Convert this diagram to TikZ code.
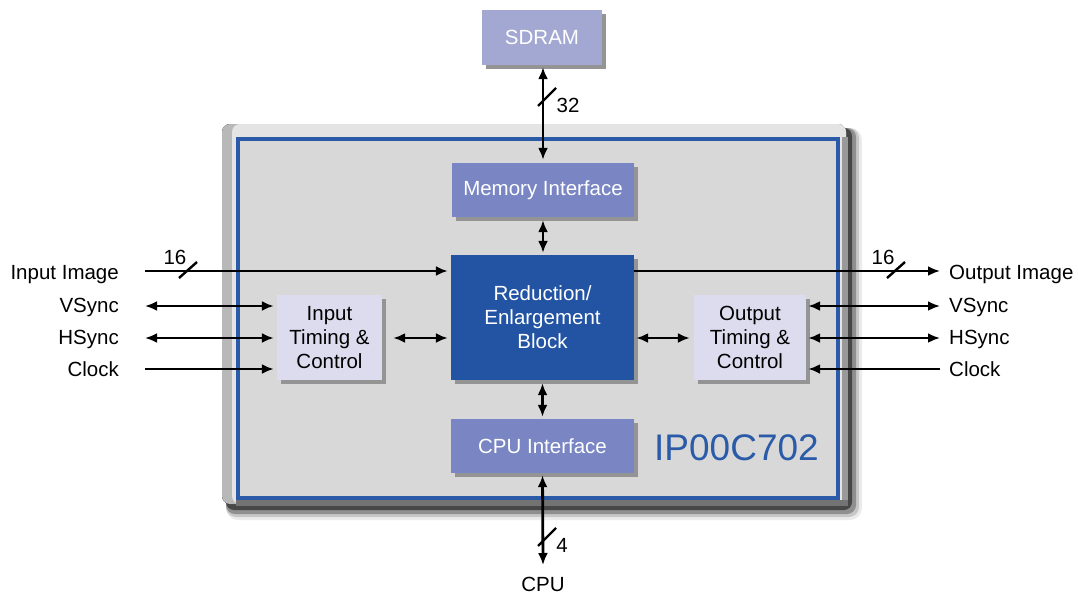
\documentclass[tikz,border=0pt]{standalone}
\usepackage{fontspec}
\setmainfont{Liberation Sans}
\usetikzlibrary{arrows.meta,shadows}
\definecolor{frameblue}{HTML}{2A5AA8}
\definecolor{redblue}{HTML}{2354A4}
\definecolor{midblue}{HTML}{7986C3}
\definecolor{sdramblue}{HTML}{A3A8D2}
\definecolor{lightlav}{HTML}{DCDCEE}
\definecolor{panel}{HTML}{D8D8D8}
\definecolor{bezel}{HTML}{E4E4E4}
\begin{document}
\begin{tikzpicture}[x=1pt,y=-1pt,
  txt/.style={font=\fontsize{20.5}{24}\selectfont, inner sep=0pt},
  shad/.style={general shadow={shadow xshift=4pt,shadow yshift=-4pt,fill=black!42}},
  box/.style={txt, shad, draw=none, align=center},
  bus/.style={line width=2.8pt, black},
  arr/.style={bus, -{Latex[length=12pt,width=10pt]}},
  darr/.style={bus, {Latex[length=12pt,width=10pt]}-{Latex[length=12pt,width=10pt]}},
  slash/.style={line width=2.4pt, black}
]
\useasboundingbox (0,0) rectangle (1078,594);
\fill[white] (0,0) rectangle (1078,594);
% bezel with shadow
\fill[black, opacity=0.08, rounded corners=12pt] (226,128) rectangle (862,520);
\fill[black, opacity=0.15, rounded corners=10pt] (226,128) rectangle (859,517);
\fill[black, opacity=0.28, rounded corners=9pt] (226,128) rectangle (856,514);
\fill[black!72, rounded corners=8pt] (226,128) rectangle (852,510);
\fill[left color=black!28, right color=bezel, rounded corners=8pt] (222,124) rectangle (846,504);
\fill[bezel, rounded corners=8pt] (232,124) rectangle (846,504);
\fill[black!40] (842,137) rectangle (848,504);
\fill[black!55] (236,500) rectangle (848,506);
% inner panel
\draw[frameblue, line width=4pt, fill=panel] (238,139) rectangle (838,498);

% blocks
\node[box, fill=sdramblue, text=white, minimum width=120pt, minimum height=55pt] (sdram) at (542,37.5) {SDRAM};
\node[box, fill=midblue, text=white, minimum width=182pt, minimum height=54pt] (mem) at (543,190) {Memory Interface};
\node[box, fill=redblue, text=white, minimum width=183pt, minimum height=125pt] (red) at (542.5,317.5) {Reduction/\\Enlargement\\Block};
\node[box, fill=midblue, text=white, minimum width=183pt, minimum height=54pt] (cpu) at (542.5,446) {CPU Interface};
\node[box, fill=lightlav, text=black, minimum width=105pt, minimum height=85pt] (itc) at (329.5,337.5) {Input\\Timing \&\\Control};
\node[box, fill=lightlav, text=black, minimum width=112pt, minimum height=85pt] (otc) at (750,337.5) {Output\\Timing \&\\Control};
\node[inner sep=0pt, text=frameblue, font=\fontsize{37}{40}\selectfont, anchor=west] (ip) at (654,448) {IP00C702};

% labels
\node[txt, anchor=base east] (linimg) at (119,279) {Input Image};
\node[txt, anchor=base east] (lvs) at (119,312) {VSync};
\node[txt, anchor=base east] (lhs) at (119,344) {HSync};
\node[txt, anchor=base east] (lclk) at (119,376) {Clock};
\node[txt, anchor=base west] (routimg) at (949,279) {Output Image};
\node[txt, anchor=base west] (rvs) at (949,312) {VSync};
\node[txt, anchor=base west] (rhs) at (949,344) {HSync};
\node[txt, anchor=base west] (rclk) at (949,376) {Clock};
\node[txt, anchor=base] (lcpu) at (543,591) {CPU};
\node[txt, anchor=base] (l32) at (568,112) {32};
\node[txt, anchor=base] (l4) at (562,552) {4};
\node[txt, anchor=base] (l16a) at (175,264) {16};
\node[txt, anchor=base] (l16b) at (883,264) {16};

% coordinates
\coordinate (inL) at (145,271);
\coordinate (vsL) at (145,306);
\coordinate (hsL) at (145,338);
\coordinate (ckL) at (145,369);
\coordinate (outR) at (940,271);
\coordinate (vsR) at (940,306);
\coordinate (hsR) at (940,338);
\coordinate (ckR) at (940,369);
\coordinate (cpuB) at (543,565);

% connectors
\draw[darr, shorten <=2pt, shorten >=3pt] (sdram.south -| mem.north) -- (mem.north);
\draw[darr, shorten <=3pt, shorten >=2pt] (mem.south) -- (mem.south |- red.north);
\draw[darr, shorten <=3pt, shorten >=2pt] (red.south -| cpu.north) -- (cpu.north);
\draw[darr, shorten <=2pt] (cpu.south) -- (cpuB);
\draw[arr, shorten >=3pt] (inL) -- (inL -| red.west);
\draw[arr] (inL -| red.east) -- (outR);
\draw[darr, shorten >=3pt] (vsL) -- (vsL -| itc.west);
\draw[darr, shorten >=3pt] (hsL) -- (hsL -| itc.west);
\draw[arr, shorten >=3pt] (ckL) -- (ckL -| itc.west);
\draw[darr, shorten <=11pt, shorten >=3pt] (hsL -| itc.east) -- (hsL -| red.west);
\draw[darr, shorten <=2pt, shorten >=4pt] (hsL -| red.east) -- (hsL -| otc.west);
\draw[darr, shorten <=2pt] (vsR -| otc.east) -- (vsR);
\draw[darr, shorten <=2pt] (hsR -| otc.east) -- (hsR);
\draw[arr, shorten >=2pt] (ckR) -- (ckR -| otc.east);

% bus width slashes
\draw[slash] (547,97) ++(-9,9) -- ++(18,-18);
\draw[slash] (547,537) ++(-9,9) -- ++(18,-18);
\draw[slash] (188,270) ++(-9,8) -- ++(18,-16);
\draw[slash] (896,270) ++(-9,8) -- ++(18,-16);
\end{tikzpicture}
\end{document}
